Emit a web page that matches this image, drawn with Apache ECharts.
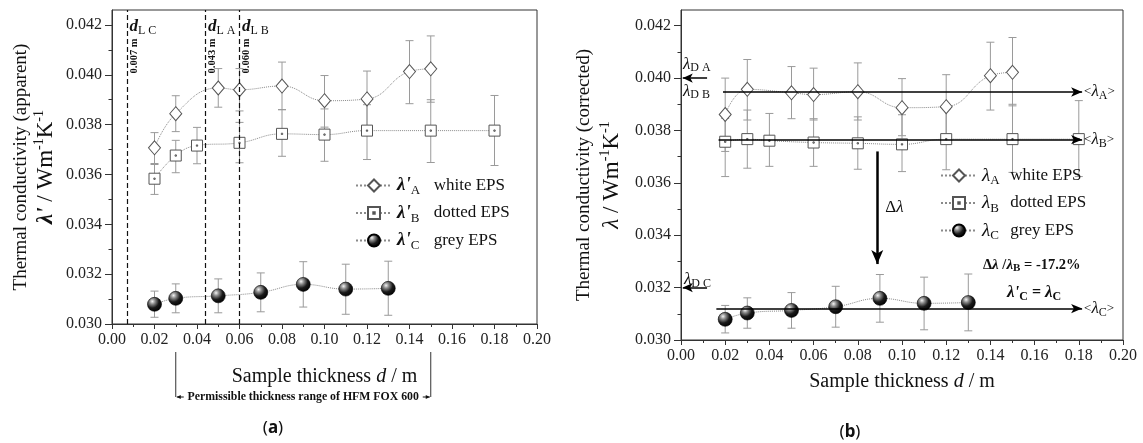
<!DOCTYPE html>
<html><head><meta charset="utf-8">
<script src="https://cdn.jsdelivr.net/npm/echarts@6/dist/echarts.min.js"></script>
<style>html,body{margin:0;padding:0;background:#fff}#c{width:1143px;height:443px}</style>
</head><body><div id="c"></div>
<script>
// ---------- tick labels ----------
const xTickLabels = ['0.00','0.02','0.04','0.06','0.08','0.10','0.12','0.14','0.16','0.18','0.20'];
const yTicks = [0.030,0.032,0.034,0.036,0.038,0.040,0.042];
const yMinorTicks = [0.031,0.033,0.035,0.037,0.039,0.041];

// ---------- panel (a): apparent ----------
const dA = [0.02,0.03,0.05,0.06,0.08,0.10,0.12,0.14,0.15];
const lamA_app = [0.03707,0.03844,0.03947,0.03940,0.03955,0.03896,0.03903,0.04013,0.04024];
const lamA_app_lo = [0.03644,0.03772,0.03870,0.03855,0.03860,0.03790,0.03790,0.03884,0.03890];
const lamA_app_hi = [0.03768,0.03916,0.04025,0.04025,0.04051,0.03997,0.04015,0.04137,0.04156];

const dB = [0.02,0.03,0.04,0.06,0.08,0.10,0.12,0.15,0.18];
const lamB_app = [0.03583,0.03676,0.03716,0.03727,0.03763,0.03760,0.03776,0.03776,0.03776];
const lamB_app_lo = [0.03520,0.03607,0.03643,0.03647,0.03673,0.03653,0.03660,0.03648,0.03636];
const lamB_app_hi = [0.03640,0.03737,0.03789,0.03809,0.03860,0.03863,0.03880,0.03900,0.03917];

const dC = [0.02,0.03,0.05,0.07,0.09,0.11,0.13];
const lamC = [0.03079,0.03103,0.03113,0.03127,0.03159,0.03140,0.03143];
const lamC_lo = [0.03027,0.03045,0.03045,0.03049,0.03068,0.03039,0.03035];
const lamC_hi = [0.03132,0.03161,0.03181,0.03205,0.03250,0.03240,0.03252];

// limit thicknesses d_L (m)
const dLimitNames = ['C','A','B'];
const dLimits = [0.007,0.044,0.060];
const dLimitLabels = ['0.007 m','0.043 m','0.060 m'];
const permissibleRange = [0.03,0.15];

// ---------- panel (b): corrected ----------
const lamA_cor = [0.03861,0.03957,0.03944,0.03937,0.03948,0.03887,0.03891,0.04009,0.04022];
const lamA_cor_lo = [0.03720,0.03840,0.03845,0.03840,0.03840,0.03780,0.03770,0.03878,0.03894];
const lamA_cor_hi = [0.04000,0.04071,0.04044,0.04038,0.04058,0.03998,0.04013,0.04137,0.04155];

const lamB_cor = [0.03757,0.03767,0.03761,0.03754,0.03751,0.03747,0.03767,0.03767,0.03767];
const lamB_cor_lo = [0.03624,0.03656,0.03663,0.03663,0.03652,0.03643,0.03650,0.03640,0.03624];
const lamB_cor_hi = [0.03846,0.03878,0.03865,0.03845,0.03852,0.03860,0.03880,0.03900,0.03914];

// mean values <λ> and their drawn extent, declared values λ_D
const meanNames = ['A','B','C'];
const meanVals = [0.03947,0.03765,0.03120];
const meanFrom = [0.019,0.017,0.016];
const meanTo = 0.1815;
const declaredVals = [0.040,0.032];      // λ_D A = λ_D B, λ_D C
const declaredArrowFrom = 0.0118, declaredArrowTo = 0.0008;
const deltaX = 0.0888, deltaFrom = 0.0372, deltaTo = 0.0329;

// ---------- styles ----------
const F = 'Liberation Serif';
const ERR_C = '#9a9a9a';
const LINE_C = '#8a8a8a';
const AX_C = '#333';
const squarePath = 'path://M0,0L10,0L10,10L0,10Z M4.4,4.4L5.6,4.4L5.6,5.6L4.4,5.6Z';
const sphereColor = new echarts.graphic.RadialGradient(0.35,0.3,0.75,[
  {offset:0,color:'#f4f4f4'},{offset:0.25,color:'#8c8c8c'},{offset:0.6,color:'#1a1a1a'},{offset:1,color:'#000'}]);

function errSeries(name, xs, lo, hi, gi){
  return {type:'custom', name, xAxisIndex:gi, yAxisIndex:gi*2, z:1, silent:true,
    data: xs.map((x,i)=>[x,lo[i],hi[i]]), encode:{x:0,y:[1,2]},
    renderItem(params, api){
      const x = api.value(0);
      const p1 = api.coord([x, api.value(1)]), p2 = api.coord([x, api.value(2)]);
      const w = 4, st = {stroke:ERR_C, lineWidth:1, fill:null};
      return {type:'group', children:[
        {type:'line', shape:{x1:p1[0],y1:p1[1],x2:p2[0],y2:p2[1]}, style:st},
        {type:'line', shape:{x1:p1[0]-w,y1:p1[1],x2:p1[0]+w,y2:p1[1]}, style:st},
        {type:'line', shape:{x1:p2[0]-w,y1:p2[1],x2:p2[0]+w,y2:p2[1]}, style:st}]};
    }};
}
function lineSeries(name, xs, ys, gi, kind, extra){
  const s = {type:'line', name, xAxisIndex:gi, yAxisIndex:gi*2, z:3, smooth:0.45,
    data: xs.map((x,i)=>[x,ys[i]]), showSymbol:true,
    lineStyle:{color:LINE_C, width:1, type:'dotted'}};
  if (kind==='A'){ s.symbol='diamond'; s.symbolSize=[12,14]; s.itemStyle={color:'#fff',borderColor:'#555',borderWidth:1}; }
  if (kind==='B'){ s.symbol=squarePath; s.symbolSize=11; s.itemStyle={color:'#fff',borderColor:'#555',borderWidth:1}; }
  if (kind==='C'){ s.symbol='circle'; s.symbolSize=14; s.itemStyle={color:sphereColor,borderColor:'#000',borderWidth:0.6}; }
  return Object.assign(s, extra||{});
}
const tickRich = {v:{fontFamily:F,fontSize:16,color:'#222'}};
function xAxis(gi, gap){
  return {type:'value', gridIndex:gi, min:0, max:0.2, interval:0.02,
    axisLine:{show:true,onZero:false,lineStyle:{color:AX_C,width:1}},
    axisTick:{show:true,length:5,lineStyle:{color:AX_C}},
    minorTick:{show:true,splitNumber:2,length:3,lineStyle:{color:AX_C}},
    splitLine:{show:false},
    axisLabel:{margin:8,fontFamily:F,fontSize:16,color:'#222',rich:tickRich,
      formatter:(v)=>'{v|'+xTickLabels[Math.round(v/0.02)]+'}'},
    name:'{t|Sample thickness }{i|d}{t| / m}', nameLocation:'middle', nameGap:gap,
    nameTextStyle:{rich:{t:{fontFamily:F,fontSize:20,color:'#111'},i:{fontFamily:F,fontSize:20,fontStyle:'italic',color:'#111'}}}};
}
function yAxisMain(gi){
  return {type:'value', gridIndex:gi, min:0.030, max:0.0426, position:'left',
    axisLine:{show:true,lineStyle:{color:AX_C,width:1}},
    axisTick:{show:true,length:7,customValues:yTicks,lineStyle:{color:AX_C}},
    splitLine:{show:false},
    axisLabel:{margin:10,fontFamily:F,fontSize:16,color:'#222',rich:tickRich,customValues:yTicks,
      formatter:(v)=>'{v|'+v.toFixed(3)+'}'}};
}
function yAxisMinor(gi){
  return {type:'value', gridIndex:gi, min:0.030, max:0.0426, position:'left', offset:0,
    axisLine:{show:false}, splitLine:{show:false}, axisLabel:{show:false},
    axisTick:{show:true,length:3.5,customValues:yMinorTicks,lineStyle:{color:AX_C}}};
}

const mkRich = (w)=>({
  g:{fontFamily:F,fontSize:19,fontStyle:'italic',fontWeight:'bold',color:'#111',lineHeight:24},
  gl:{fontFamily:F,fontSize:19,fontStyle:'italic',color:'#111',lineHeight:24},
  s:{fontFamily:F,fontSize:13,color:'#111',verticalAlign:'bottom',lineHeight:14,width:w},
  t:{fontFamily:F,fontSize:17,color:'#111',lineHeight:24}
});
const legendNamesA = ["λ'A","λ'B","λ'C"];
const legendNamesB = ["λA","λB","λC"];
const legendDesc = ['white EPS','dotted EPS','grey EPS'];

const markArrow = (x1,y1,x2,y2,w,size)=>[{coord:[x1,y1],symbol:'none'},{coord:[x2,y2],symbol:'arrow',symbolSize:size,lineStyle:{color:'#000',width:w,type:'solid'}}];
const meanLabel = (n)=>({show:true,position:'end',distance:2,formatter:'{a|<}{l|λ}{s|'+n+'}{a|>}',
  rich:{a:{fontFamily:F,fontSize:13,color:'#111'},l:{fontFamily:F,fontSize:17,fontStyle:'italic',color:'#111',lineHeight:20},s:{fontFamily:F,fontSize:12,color:'#111',verticalAlign:'bottom',lineHeight:13}}});

function meanLine(i){
  return [{coord:[meanFrom[i],meanVals[i]],symbol:'none'},
          {coord:[meanTo,meanVals[i]],symbol:'arrow',symbolSize:[7,11],
           lineStyle:{color:'#000',width:1.5,type:'solid'},label:meanLabel(meanNames[i])}];
}

const option = {
  animation:false, backgroundColor:'#fff',
  grid:[
    {left:112,top:10,width:425,height:314,show:true,borderColor:AX_C,borderWidth:1,backgroundColor:'transparent'},
    {left:681,top:10,width:442,height:330,show:true,borderColor:AX_C,borderWidth:1,backgroundColor:'transparent'}
  ],
  xAxis:[xAxis(0,43), xAxis(1,32)],
  yAxis:[yAxisMain(0), yAxisMinor(0), yAxisMain(1), yAxisMinor(1)],
  legend:[
    {left:350,top:171,orient:'vertical',itemGap:6,itemWidth:36,itemHeight:15,data:legendNamesA,
     textStyle:{fontFamily:F,fontSize:17,color:'#111',rich:mkRich(23)},
     formatter:(n)=>'{g|λ\'}{s|'+n.slice(-1)+'}{t|'+legendDesc[legendNamesA.indexOf(n)]+'}'},
    {left:935,top:161,orient:'vertical',itemGap:6,itemWidth:36,itemHeight:15,data:legendNamesB,
     textStyle:{fontFamily:F,fontSize:17,color:'#111',rich:mkRich(20)},
     formatter:(n)=>'{gl|λ}{s|'+n.slice(-1)+'}{t|'+legendDesc[legendNamesB.indexOf(n)]+'}'}
  ],
  series:[
    errSeries('errA_a',dA,lamA_app_lo,lamA_app_hi,0),
    errSeries('errB_a',dB,lamB_app_lo,lamB_app_hi,0),
    errSeries('errC_a',dC,lamC_lo,lamC_hi,0),
    lineSeries("λ'A",dA,lamA_app,0,'A',{markLine:{silent:true,symbol:'none',precision:4,label:{show:false},
      lineStyle:{color:'#111',width:1.2,type:[5,3]}, data: dLimits.map(v=>({xAxis:v}))}}),
    lineSeries("λ'B",dB,lamB_app,0,'B'),
    lineSeries("λ'C",dC,lamC,0,'C'),

    errSeries('errA_b',dA,lamA_cor_lo,lamA_cor_hi,1),
    errSeries('errB_b',dB,lamB_cor_lo,lamB_cor_hi,1),
    errSeries('errC_b',dC,lamC_lo,lamC_hi,1),
    lineSeries('λA',dA,lamA_cor,1,'A',{markLine:{silent:true,precision:5,label:{show:false},lineStyle:{color:'#000',width:1.5,type:'solid'},
      data:[meanLine(0),
            markArrow(declaredArrowFrom,declaredVals[0],declaredArrowTo,declaredVals[0],1.5,[7,10]),
            markArrow(deltaX,deltaFrom,deltaX,deltaTo,2.5,[9,14])]}}),
    lineSeries('λB',dB,lamB_cor,1,'B',{markLine:{silent:true,precision:5,label:{show:false},lineStyle:{color:'#000',width:1.5,type:'solid'},
      data:[meanLine(1)]}}),
    lineSeries('λC',dC,lamC,1,'C',{markLine:{silent:true,precision:5,label:{show:false},lineStyle:{color:'#000',width:1.5,type:'solid'},
      data:[meanLine(2),
            markArrow(declaredArrowFrom,declaredVals[1],declaredArrowTo,declaredVals[1],1.5,[7,10])]}})
  ]
};

const chart = echarts.init(document.getElementById('c'));
chart.setOption(option);
const P = (g,x,y)=>chart.convertToPixel({gridIndex:g},[x,y]);

const g = [];
const txt = (x,y,text,rich,align,extra)=>Object.assign({type:'text',x,y,silent:true,
  style:{text,rich,align:align||'left',verticalAlign:'middle',fill:'#111',fontFamily:F}},extra||{});

// y-axis titles
const yt1 = {t:{fontFamily:F,fontSize:19,color:'#111'}};
const yt2 = {g:{fontFamily:F,fontSize:23,fontStyle:'italic',fontWeight:'bold',color:'#111',lineHeight:28},
             n:{fontFamily:F,fontSize:23,color:'#111',lineHeight:28},
             p:{fontFamily:F,fontSize:14,color:'#111',verticalAlign:'top',lineHeight:15}};
g.push(txt(21,167,'{t|Thermal conductivity (apparent)}',yt1,'center',{rotation:Math.PI/2}));
g.push(txt(46,167,"{g|λ'}{n| / Wm}{p|-1}{n|K}{p|-1}",yt2,'center',{rotation:Math.PI/2}));
g.push(txt(584,175,'{t|Thermal conductivity (corrected)}',yt1,'center',{rotation:Math.PI/2}));
const yt2b = Object.assign({},yt2,{g:Object.assign({},yt2.g,{fontWeight:'normal'})});
g.push(txt(612,175,"{g|λ}{n| / Wm}{p|-1}{n|K}{p|-1}",yt2b,'center',{rotation:Math.PI/2}));

// d_L labels
const dRich = {d:{fontFamily:F,fontSize:17,fontStyle:'italic',fontWeight:'bold',color:'#111',lineHeight:20},
               s:{fontFamily:F,fontSize:12,color:'#111',verticalAlign:'bottom',lineHeight:12}};
dLimits.forEach((v,i)=>{
  const p = P(0,v,0.042);
  g.push(txt(p[0]+2.5,p[1]+2,'{d|d}{s|L '+dLimitNames[i]+'}',dRich,'left'));
  g.push(txt(p[0]+7,p[1]+31,'{b|'+dLimitLabels[i]+'}',{b:{fontFamily:F,fontSize:10.5,fontWeight:'bold',color:'#111'}},'center',{rotation:Math.PI/2}));
});

// permissible range bracket
const L = P(0,permissibleRange[0],0.030)[0], R = P(0,permissibleRange[1],0.030)[0];
const yb = 397;
g.push({type:'line',silent:true,shape:{x1:L,y1:352,x2:L,y2:yb},style:{stroke:'#333',lineWidth:1}});
g.push({type:'line',silent:true,shape:{x1:R,y1:352,x2:R,y2:yb},style:{stroke:'#333',lineWidth:1}});
g.push({type:'line',silent:true,shape:{x1:L+1,y1:yb,x2:L+8,y2:yb},style:{stroke:'#111',lineWidth:1}});
g.push({type:'line',silent:true,shape:{x1:R-8,y1:yb,x2:R-1,y2:yb},style:{stroke:'#111',lineWidth:1}});
g.push({type:'polygon',silent:true,shape:{points:[[L+1,yb],[L+5,yb-2],[L+5,yb+2]]},style:{fill:'#111'}});
g.push({type:'polygon',silent:true,shape:{points:[[R-1,yb],[R-5,yb-2],[R-5,yb+2]]},style:{fill:'#111'}});
g.push(txt((L+R)/2,yb,'{b|Permissible thickness range of HFM FOX 600}',{b:{fontFamily:F,fontSize:11.8,fontWeight:'bold',color:'#111'}},'center'));

// panel b labels
const lRich = {l:{fontFamily:F,fontSize:17,fontStyle:'italic',color:'#111',lineHeight:20},
               s:{fontFamily:F,fontSize:12,color:'#111',verticalAlign:'bottom',lineHeight:12},
               n:{fontFamily:F,fontSize:17,color:'#111',lineHeight:20}};
const x0b = P(1,0,0.03)[0];
g.push(txt(x0b+2,P(1,0,declaredVals[0])[1]-14,'{l|λ}{s|D A}',lRich,'left'));
g.push(txt(x0b+2,P(1,0,declaredVals[0])[1]+13,'{l|λ}{s|D B}',lRich,'left'));
g.push(txt(x0b+3,P(1,0,declaredVals[1])[1]-8,'{l|λ}{s|D C}',lRich,'left'));
const pd = P(1,deltaX,0.0355);
g.push(txt(pd[0]+8,pd[1]+12,'{n|Δ}{l|λ}',lRich,'left'));
const bRich = {b:{fontFamily:F,fontSize:14.5,fontWeight:'bold',color:'#111',lineHeight:18},
  bi:{fontFamily:F,fontSize:15,fontWeight:'bold',fontStyle:'italic',color:'#111',lineHeight:18},
  bs:{fontFamily:F,fontSize:11,fontWeight:'bold',color:'#111',verticalAlign:'bottom',lineHeight:11},
  li:{fontFamily:F,fontSize:17,fontStyle:'italic',fontWeight:'bold',color:'#111',lineHeight:20},
  ls:{fontFamily:F,fontSize:12,fontWeight:'bold',color:'#111',verticalAlign:'bottom',lineHeight:12},
  lb:{fontFamily:F,fontSize:16,fontWeight:'bold',color:'#111',lineHeight:20}};
g.push(txt(983,265,'{b|Δ}{bi|λ}{b| /}{bi|λ}{bs|B}{b| = -17.2%}',bRich,'left'));
g.push(txt(1007,293,"{li|λ'}{ls|C}{lb| = }{li|λ}{ls|C}",bRich,'left'));

// panel captions
const capRich = {p:{fontFamily:'Noto Sans',fontSize:17,color:'#111'},b:{fontFamily:'Noto Sans',fontSize:17,fontWeight:'bold',color:'#111'}};
g.push(txt(273,428,'{p|(}{b|a}{p|)}',capRich,'center'));
g.push(txt(850,432,'{p|(}{b|b}{p|)}',capRich,'center'));

chart.setOption({graphic:g});
</script></body></html>
